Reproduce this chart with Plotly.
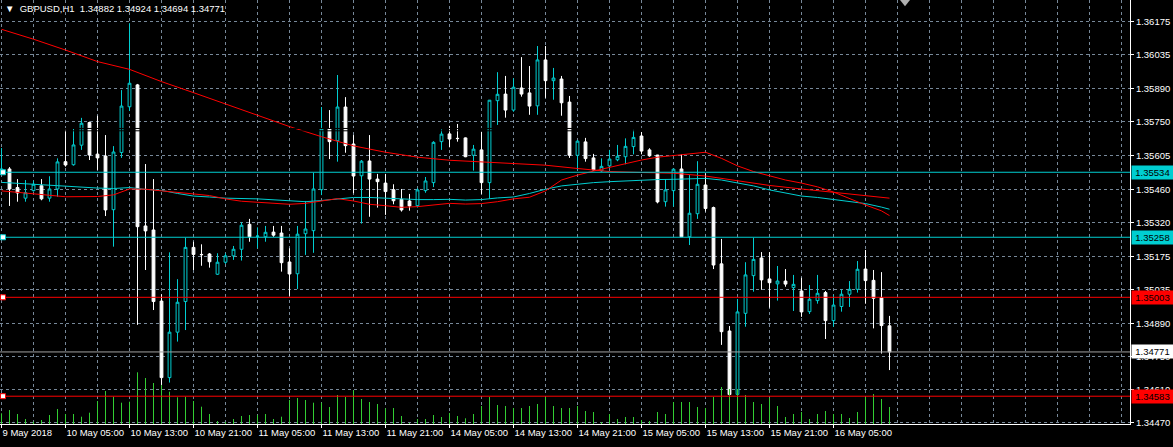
import plotly.graph_objects as go

# ---------------- data ----------------
bar_index = list(range(112))

opens = [1.35535,1.35548,1.35469,1.35424,1.35456,1.35477,1.35424,1.35463,1.35579,1.35566,
         1.35649,1.35745,1.35611,1.35603,1.35375,1.35618,1.35812,1.35905,1.35306,1.35289,
         1.34987,1.34662,1.34855,1.34985,1.35215,1.35185,1.35187,1.35101,1.35152,1.35179,
         1.35207,1.35313,1.35262,1.35260,1.35280,1.35276,1.35153,1.35103,1.35273,1.35286,
         1.35460,1.35718,1.35668,1.35811,1.35654,1.35519,1.35582,1.35505,1.35488,1.35460,
         1.35419,1.35412,1.35392,1.35456,1.35490,1.35664,1.35697,1.35678,1.35680,1.35606,
         1.35629,1.35490,1.35838,1.35866,1.35798,1.35892,1.35871,1.35816,1.36011,1.35923,
         1.35930,1.35832,1.35606,1.35663,1.35595,1.35540,1.35561,1.35587,1.35600,1.35643,
         1.35688,1.35629,1.35607,1.35409,1.35456,1.35548,1.35260,1.35358,1.35480,1.35384,
         1.35145,1.34860,1.34591,1.34935,1.35095,1.35170,1.35081,1.35060,1.35072,1.35044,
         1.35030,1.34942,1.34989,1.35023,1.34904,1.34964,1.35016,1.35037,1.35123,1.35075,
         1.35001,1.34882]
highs = [1.35637,1.35556,1.35505,1.35501,1.35498,1.35505,1.35517,1.35593,1.35714,1.35718,
         1.35765,1.35749,1.35774,1.35692,1.35645,1.35883,1.36167,1.35909,1.35569,1.35505,
         1.35016,1.35194,1.35080,1.35256,1.35239,1.35228,1.35191,1.35190,1.35190,1.35221,
         1.35322,1.35336,1.35300,1.35306,1.35306,1.35306,1.35211,1.35306,1.35412,1.35532,
         1.35811,1.35798,1.35947,1.35853,1.35692,1.35586,1.35692,1.35527,1.35527,1.35483,
         1.35463,1.35442,1.35466,1.35514,1.35666,1.35716,1.35731,1.35739,1.35682,1.35650,
         1.35706,1.35841,1.35959,1.35943,1.35933,1.36023,1.35985,1.36070,1.36070,1.35977,
         1.35943,1.35858,1.35671,1.35680,1.35612,1.35593,1.35629,1.35650,1.35678,1.35714,
         1.35705,1.35636,1.35608,1.35505,1.35550,1.35610,1.35522,1.35581,1.35530,1.35388,
         1.35251,1.34881,1.34996,1.35152,1.35256,1.35195,1.35195,1.35136,1.35123,1.35098,
         1.35086,1.35055,1.35098,1.35030,1.35013,1.35037,1.35072,1.35157,1.35204,1.35119,
         1.35110,1.34924]
lows = [1.35527,1.35391,1.35409,1.35409,1.35452,1.35415,1.35409,1.35430,1.35558,1.35562,
        1.35629,1.35586,1.35544,1.35348,1.35218,1.35595,1.35794,1.34886,1.35119,1.34949,
        1.34631,1.34641,1.34815,1.34864,1.35119,1.35137,1.35129,1.35098,1.35145,1.35162,
        1.35159,1.35239,1.35211,1.35239,1.35260,1.35112,1.35009,1.35038,1.35183,1.35192,
        1.35437,1.35590,1.35579,1.35617,1.35445,1.35316,1.35345,1.35384,1.35353,1.35398,
        1.35367,1.35371,1.35384,1.35447,1.35471,1.35629,1.35640,1.35664,1.35598,1.35541,
        1.35442,1.35421,1.35735,1.35766,1.35791,1.35855,1.35778,1.35778,1.35850,1.35842,
        1.35774,1.35595,1.35543,1.35579,1.35541,1.35536,1.35551,1.35581,1.35568,1.35610,
        1.35610,1.35600,1.35402,1.35388,1.35388,1.35259,1.35225,1.35336,1.35367,1.35123,
        1.34801,1.34585,1.34587,1.34878,1.35027,1.35035,1.34959,1.34989,1.35048,1.34945,
        1.34920,1.34932,1.34976,1.34826,1.34878,1.34942,1.34962,1.35023,1.34976,1.34871,
        1.34764,1.34694]
closes = [1.35548,1.35463,1.35446,1.35447,1.35483,1.35421,1.35463,1.35578,1.35565,1.35650,
          1.35742,1.35607,1.35595,1.35374,1.35620,1.35815,1.35912,1.35303,1.35285,1.34985,
          1.34662,1.34855,1.34982,1.35215,1.35185,1.35184,1.35154,1.35152,1.35179,1.35207,
          1.35309,1.35260,1.35263,1.35279,1.35267,1.35150,1.35102,1.35271,1.35293,1.35463,
          1.35718,1.35664,1.35811,1.35647,1.35518,1.35581,1.35505,1.35494,1.35452,1.35413,
          1.35374,1.35391,1.35459,1.35497,1.35661,1.35696,1.35675,1.35677,1.35600,1.35632,
          1.35490,1.35840,1.35865,1.35798,1.35895,1.35866,1.35815,1.36011,1.35923,1.35934,
          1.35829,1.35606,1.35666,1.35592,1.35544,1.35559,1.35590,1.35602,1.35644,1.35682,
          1.35624,1.35604,1.35408,1.35459,1.35547,1.35260,1.35360,1.35483,1.35380,1.35140,
          1.34857,1.34590,1.34941,1.35098,1.35164,1.35077,1.35065,1.35072,1.35059,1.35058,
          1.34941,1.34995,1.35020,1.34904,1.34970,1.35016,1.35037,1.35122,1.35074,1.34999,
          1.34883,1.34771]
volumes = [1070,1400,1000,500,230,400,900,1500,1000,1000,
           730,1130,2300,3300,2730,2130,2230,5170,4600,4100,
           3900,3230,2670,2730,2300,1730,1000,300,200,500,
           800,900,900,1000,500,730,2400,2600,2400,2130,
           2130,1700,2900,2700,3370,2500,2200,2000,1570,1600,
           800,100,500,500,900,700,1100,800,570,1000,
           1800,2700,1900,1800,1600,1600,1800,2000,2700,1800,
           1600,1600,1800,1300,1200,200,1000,500,700,700,
           400,300,1200,1000,2200,2200,2200,1700,1600,2700,
           3700,3500,3500,2900,2200,2000,2600,1800,700,1000,
           1200,500,1000,1300,1000,1000,600,1200,2700,3000,
           2500,1700]

# moving averages (sampled at bar indices)
ma_slow_idx = [0,4,8,12,16,20,24,28,32,36,40,44,48,52,56,60,64,68,72,76,80,84,88,92,96,100,104,108,111]
ma_slow_val = [1.36141,1.36099,1.36053,1.36004,1.35971,1.35919,1.35872,1.35823,1.35777,1.35728,
               1.35685,1.35646,1.35619,1.35598,1.35585,1.35578,1.35571,1.35564,1.35550,1.35537,
               1.35533,1.35530,1.35518,1.35498,1.35478,1.35463,1.35448,1.35436,1.35424]
ma_fast_idx = [0,4,8,12,14,16,18,20,22,24,26,28,30,32,34,36,38,40,42,44,46,48,50,52,54,56,58,60,
               62,64,66,68,70,72,74,76,78,80,82,84,86,88,90,92,94,96,98,100,102,104,106,108,110,111]
ma_fast_val = [1.35455,1.35442,1.35430,1.35431,1.35438,1.35463,1.35462,1.35455,1.35447,1.35442,
               1.35435,1.35421,1.35411,1.35406,1.35401,1.35398,1.35402,1.35412,1.35422,1.35412,
               1.35398,1.35392,1.35385,1.35388,1.35395,1.35402,1.35399,1.35401,1.35409,1.35421,
               1.35428,1.35455,1.35501,1.35522,1.35539,1.35555,1.35571,1.35586,1.35598,1.35606,
               1.35612,1.35619,1.35593,1.35561,1.35537,1.35518,1.35501,1.35488,1.35472,1.35450,
               1.35421,1.35395,1.35370,1.35350]
ma_mid_idx = [0,2,4,6,8,10,12,14,16,18,20,22,24,26,28,32,34,36,38,40,42,44,46,48,50,52,54,56,58,
              60,62,64,66,68,70,72,74,76,78,80,82,84,86,88,90,92,94,96,98,100,102,104,106,108,110,111]
ma_mid_val = [1.35491,1.35487,1.35480,1.35479,1.35473,1.35470,1.35467,1.35465,1.35469,1.35461,
              1.35457,1.35444,1.35433,1.35429,1.35424,1.35421,1.35418,1.35412,1.35409,1.35414,
              1.35422,1.35427,1.35427,1.35424,1.35419,1.35418,1.35418,1.35419,1.35416,1.35418,
              1.35425,1.35429,1.35444,1.35462,1.35476,1.35484,1.35490,1.35494,1.35498,1.35501,
              1.35503,1.35504,1.35507,1.35508,1.35501,1.35490,1.35476,1.35459,1.35446,1.35433,
              1.35427,1.35418,1.35410,1.35401,1.35386,1.35377]

# horizontal levels
cyan_levels = [1.35534, 1.35258]
red_levels = [1.35003, 1.34583]
bid_price = 1.34771
hidden_levels = [1.35720, 1.35710]   # black object lines visible only across candle bodies

x_tick_idx = [0, 8, 16, 24, 32, 40, 48, 56, 64, 72, 80, 88, 96, 104]
x_tick_text = ["9 May 2018", "10 May 05:00", "10 May 13:00", "10 May 21:00", "11 May 05:00",
               "11 May 13:00", "11 May 21:00", "14 May 05:00", "14 May 13:00", "14 May 21:00",
               "15 May 05:00", "15 May 13:00", "15 May 21:00", "16 May 05:00"]
y_tick_vals = [1.36175, 1.36035, 1.35890, 1.35750, 1.35605, 1.35460, 1.35320,
               1.35175, 1.35035, 1.34890, 1.34750, 1.34610, 1.34470]
title_text = "GBPUSD,H1  1.34882 1.34924 1.34694 1.34771"

for arr in (opens, highs, lows, closes, volumes):
    assert len(arr) == len(bar_index)

# ---------------- styling ----------------
CYAN = "#00CED1"
RED = "#FF0000"
GREEN = "#32CD32"
GRID = "#778899"
FONT = dict(family="Liberation Sans, Arial, sans-serif", size=9.5, color="#FFFFFF")

fig = go.Figure()

# volume sticks (1px vertical lines from 0 up to the volume)
vol_x, vol_y = [], []
for k, v in zip(bar_index, volumes):
    vol_x += [k, k, None]
    vol_y += [0, v, None]
fig.add_trace(go.Scatter(x=vol_x, y=vol_y, yaxis="y2", mode="lines",
                         line=dict(color=GREEN, width=1), hoverinfo="skip"))

fig.add_trace(go.Candlestick(
    x=bar_index, open=opens, high=highs, low=lows, close=closes,
    increasing=dict(line=dict(color=CYAN, width=1), fillcolor="#000000"),
    decreasing=dict(line=dict(color="#FFFFFF", width=1), fillcolor="#FFFFFF"),
    whiskerwidth=0, hoverinfo="skip"))

fig.add_trace(go.Scatter(x=ma_slow_idx, y=ma_slow_val, mode="lines",
                         line=dict(color=RED, width=1), hoverinfo="skip"))
fig.add_trace(go.Scatter(x=ma_mid_idx, y=ma_mid_val, mode="lines",
                         line=dict(color=CYAN, width=1), hoverinfo="skip"))
fig.add_trace(go.Scatter(x=ma_fast_idx, y=ma_fast_val, mode="lines",
                         line=dict(color=RED, width=1), hoverinfo="skip"))

shapes = []
annotations = []
for p in hidden_levels:
    shapes.append(dict(type="line", xref="paper", x0=0, x1=1, yref="y", y0=p, y1=p,
                       line=dict(color="#000000", width=1), layer="above"))

levels = [(p, CYAN) for p in cyan_levels] + [(p, RED) for p in red_levels]
for p, lc in levels:
    shapes.append(dict(type="line", xref="paper", x0=0, x1=1, yref="y", y0=p, y1=p,
                       line=dict(color=lc, width=1), layer="above"))
    shapes.append(dict(type="rect", xref="paper", xsizemode="pixel", xanchor=0, x0=0.5, x1=5.5,
                       yref="y", ysizemode="pixel", yanchor=p, y0=-2.5, y1=2.5,
                       line=dict(color=lc, width=1), fillcolor="#FFFFFF", layer="above"))
    annotations.append(dict(xref="paper", x=1, xanchor="left", xshift=1, yref="y", y=p,
                            yanchor="middle", text=f"{p:.5f}", showarrow=False,
                            bgcolor=lc, font=dict(FONT, color="#000000"), width=41, height=13,
                            align="center", borderpad=0))
shapes.append(dict(type="line", xref="paper", x0=0, x1=1, yref="y", y0=bid_price, y1=bid_price,
                   line=dict(color="#A0A0A0", width=1), layer="above"))
annotations.append(dict(xref="paper", x=1, xanchor="left", xshift=1, yref="y", y=bid_price,
                        yanchor="middle", text=f"{bid_price:.5f}", showarrow=False,
                        bgcolor="#FFFFFF", font=dict(FONT, color="#000000"), width=41, height=13,
                        align="center", borderpad=0))
# chart-shift marker at the top
shapes.append(dict(type="path", xref="paper", yref="paper",
                   path="M 0.7965 1 L 0.8053 1 L 0.8009 0.985 Z",
                   fillcolor="#B0B0B0", line=dict(width=0), layer="above"))

annotations.append(dict(xref="paper", yref="paper", x=0, y=1, xanchor="left", yanchor="top",
                        xshift=3, yshift=-1, showarrow=False,
                        text="\u25BC  " + title_text, font=FONT))

axis_common = dict(showgrid=True, gridcolor=GRID, gridwidth=1, griddash="3px,3px",
                   zeroline=False, tickfont=FONT, tickcolor="#FFFFFF", automargin=False)

fig.update_layout(
    width=1173, height=447,
    margin=dict(l=0, r=43, t=0, b=23),
    paper_bgcolor="#000000", plot_bgcolor="#000000",
    showlegend=False, boxgap=0.5,
    shapes=shapes, annotations=annotations,
    xaxis=dict(axis_common, range=[-0.1875, 141.0625], tickmode="array",
               tickvals=x_tick_idx, ticktext=x_tick_text, ticklabelposition="outside right",
               tickangle=0, ticks="outside", ticklen=3,
               showline=True, linecolor="#FFFFFF", linewidth=1,
               minor=dict(tickmode="linear", tick0=0, dtick=4, showgrid=True, gridcolor=GRID,
                          griddash="3px,3px", gridwidth=1, ticks=""),
               rangeslider=dict(visible=False)),
    yaxis=dict(axis_common, side="right", range=[1.34465, 1.362655], tickmode="array",
               tickvals=y_tick_vals, tickformat=".5f", ticks="outside", ticklen=3,
               showline=True, linecolor="#FFFFFF", linewidth=1),
    yaxis2=dict(overlaying="y", range=[0, 42400], visible=False),
)

fig.write_html("out.html",
               config={"displayModeBar": False},
               post_script="document.body.style.margin='0px';document.body.style.overflow='hidden';")
